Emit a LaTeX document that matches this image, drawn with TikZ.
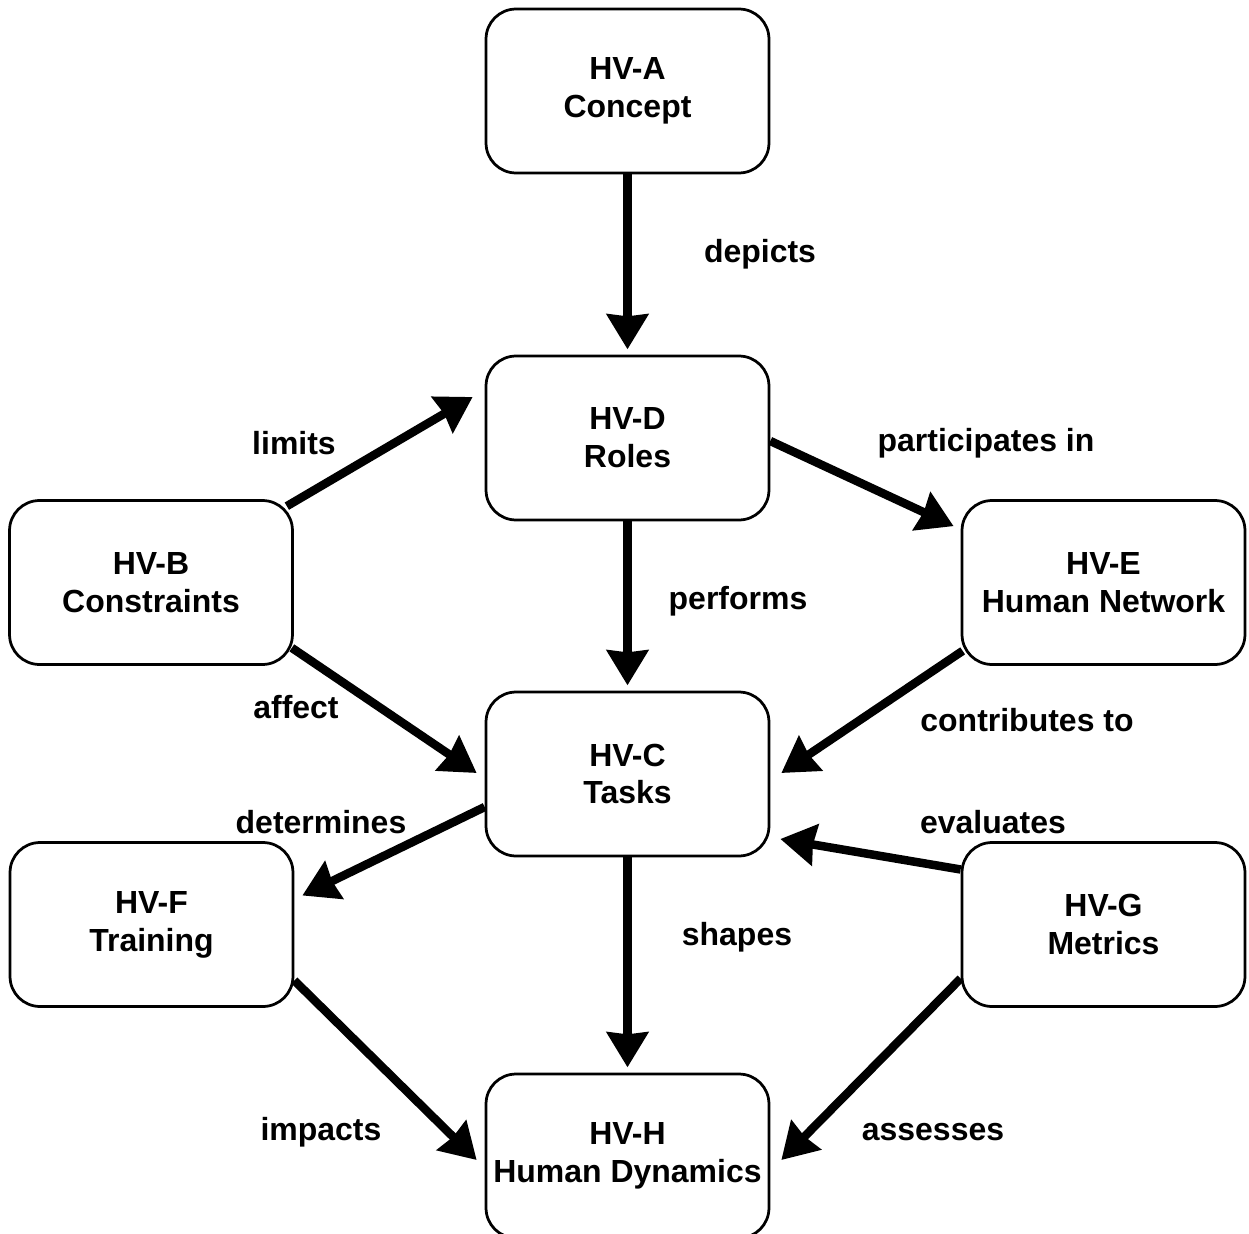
\documentclass[tikz,border=0pt]{standalone}
\usepackage{fontspec}
\setmainfont{Liberation Sans}
\usetikzlibrary{arrows.meta,calc}

\begin{document}
\begin{tikzpicture}[x=0.02cm,y=-0.02cm,
  viewbox/.style={draw=black, line width=0.055cm, rounded corners=0.6cm,
    minimum width=5.66cm, minimum height=3.28cm, align=center, fill=white,
    font=\fontsize{18.2}{21.6}\selectfont\bfseries, inner sep=0pt},
  rel/.style={-{Stealth[inset=0.04cm,length=0.7cm,width=0.82cm]}, line width=0.17cm},
  lbl/.style={font=\fontsize{18.2}{21.6}\selectfont\bfseries, inner sep=0pt}]

\useasboundingbox (0,0) rectangle (1249,1234);

% views
\node[viewbox] (A) at (627.5,91)   {HV-A\\Concept};
\node[viewbox] (D) at (627.5,438)  {HV-D\\Roles};
\node[viewbox] (B) at (151,582.5)  {HV-B\\Constraints};
\node[viewbox] (E) at (1103.5,582.5) {HV-E\\Human Network};
\node[viewbox] (C) at (627.5,774)  {HV-C\\Tasks};
\node[viewbox] (F) at (151.5,924.5) {HV-F\\Training};
\node[viewbox] (G) at (1103.5,924.5) {HV-G\\Metrics};
\node[viewbox] (H) at (627.5,1156) {HV-H\\Human Dynamics};

% relations
\draw[rel, shorten >=3] (A.south) -- (D.north);
\draw[rel, shorten >=3] (D.south) -- (C.north);
\draw[rel, shorten >=3] (C.south) -- (H.north);
\draw[rel] ($(B.north east)+(-7,7)$) -- ($(D.west)+(-12,-41)$);
\draw[rel] ($(D.east)+(0,3)$) -- ($(E.north west)+(-7,27)$);
\draw[rel] ($(B.south east)+(-2,-18)$) -- ($(C.west)+(-8,-1)$);
\draw[rel] ($(E.south west)+(2,-15)$) -- ($(C.east)+(11,-1)$);
\draw[rel] ($(C.west)+(0,33)$) -- ($(F.east)+(8,-29)$);
\draw[rel] ($(G.west)+(0,-55)$) -- ($(C.east)+(10,65)$);
\draw[rel] ($(F.east)+(0,56)$) -- ($(H.west)+(-8,4)$);
\draw[rel] ($(G.west)+(0,54)$) -- ($(H.east)+(11,4)$);

% relation labels
\node[lbl] (l1)  at (760,254)  {depicts};
\node[lbl] (l2)  at (294,443)  {limits};
\node[lbl] (l3)  at (986,443)  {participates in};
\node[lbl] (l4)  at (738,601)  {performs};
\node[lbl] (l5)  at (296,707)  {affect};
\node[lbl] (l6)  at (1027,720) {contributes to};
\node[lbl] (l7)  at (321,822)  {determines};
\node[lbl] (l8)  at (993,822)  {evaluates};
\node[lbl] (l9)  at (737,937)  {shapes};
\node[lbl] (l10) at (321,1132) {impacts};
\node[lbl] (l11) at (933,1132) {assesses};
\end{tikzpicture}
\end{document}
